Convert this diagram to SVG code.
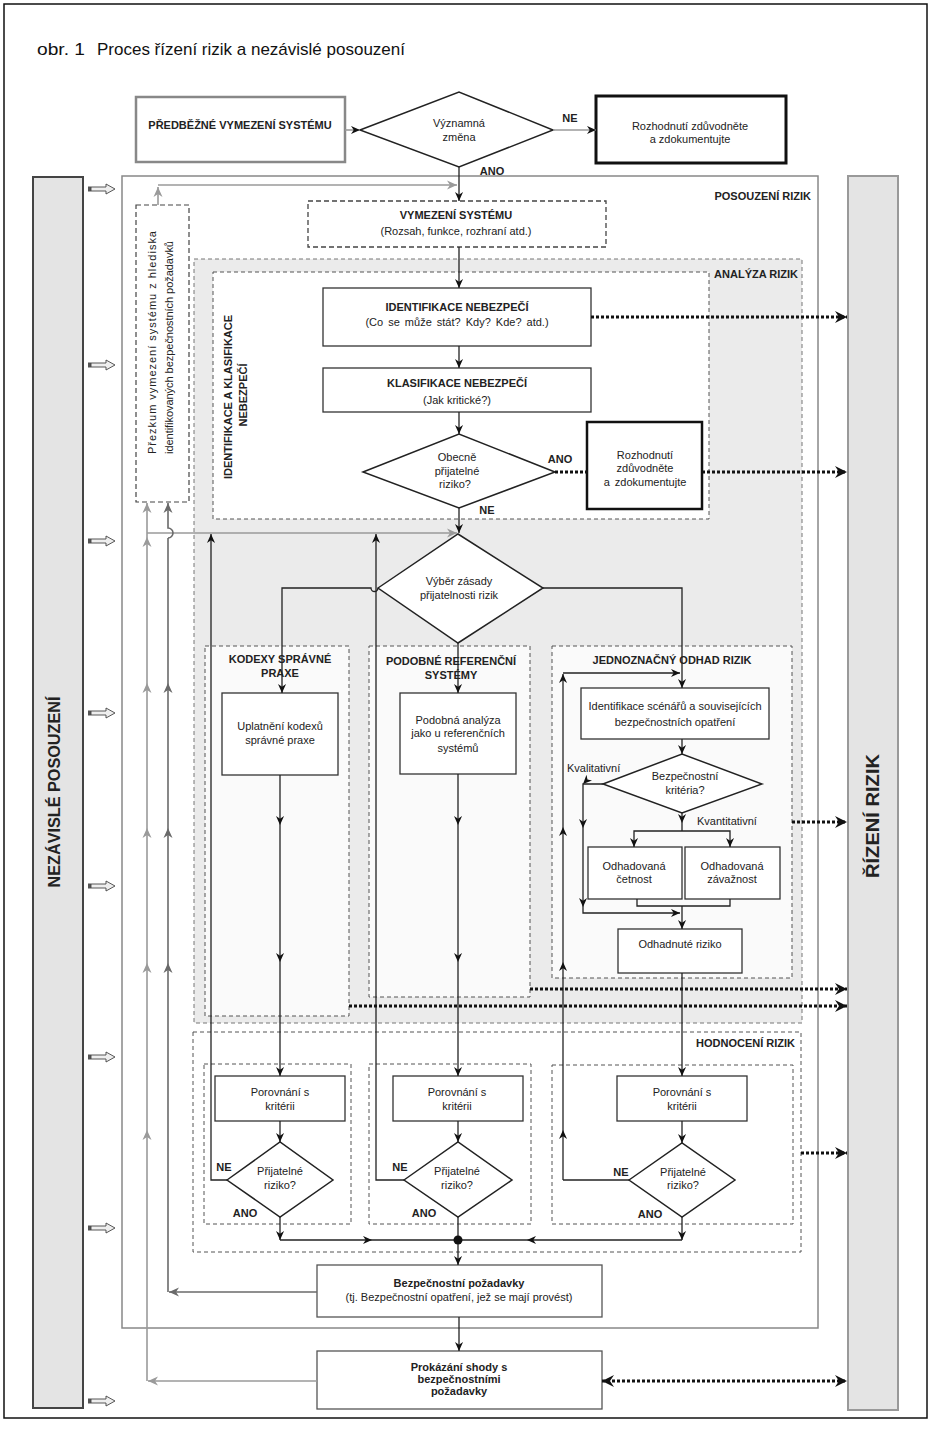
<svg xmlns="http://www.w3.org/2000/svg" width="932" height="1429" viewBox="0 0 932 1429">
<style>
.t{font-family:"Liberation Sans",Arial,sans-serif;font-size:11px;fill:#222;text-anchor:middle}
.b{font-weight:bold}
.s{text-anchor:start}
.e{text-anchor:end}
.ttl{font-family:"Liberation Sans Narrow","Liberation Sans",Arial,sans-serif;font-size:17px;fill:#111;text-anchor:start}
.box{fill:#fff;stroke:#333;stroke-width:1.3}
.dia{fill:#fff;stroke:#222;stroke-width:1.5}
.dash{fill:none;stroke:#555;stroke-width:1;stroke-dasharray:4 3}
.ln{fill:none;stroke:#222;stroke-width:1.3}
.gl{fill:none;stroke:#9a9a9a;stroke-width:1.6}
.gd{fill:none;stroke:#6a6a6a;stroke-width:1.6}
.dot{fill:none;stroke:#111;stroke-width:3;stroke-dasharray:3 2}
</style>
<defs>
<marker id="a" viewBox="0 0 10 10" refX="10" refY="5" markerWidth="9" markerHeight="9" markerUnits="userSpaceOnUse" orient="auto"><path d="M0,0.5 L10,5 L0,9.5 L3,5 z" fill="#111"/></marker>
<marker id="g" viewBox="0 0 10 10" refX="10" refY="5" markerWidth="10" markerHeight="10" markerUnits="userSpaceOnUse" orient="auto"><path d="M0,0.5 L10,5 L0,9.5 L3,5 z" fill="#9a9a9a"/></marker>
<marker id="g2" viewBox="0 0 10 10" refX="10" refY="5" markerWidth="10" markerHeight="10" markerUnits="userSpaceOnUse" orient="auto"><path d="M0,0.5 L10,5 L0,9.5 L3,5 z" fill="#6a6a6a"/></marker>
<marker id="d" viewBox="0 0 12 12" refX="12" refY="6" markerWidth="12" markerHeight="12" markerUnits="userSpaceOnUse" orient="auto-start-reverse"><path d="M0,0 L12,6 L0,12 L4,6 z" fill="#111"/></marker>
<g id="ha"><rect x="88" y="-2.5" width="3" height="5" fill="#555"/><path d="M91,-2 H106 V-5 L115,0 L106,5 V2 H91 Z" fill="#eee" stroke="#444" stroke-width="0.9"/></g>
</defs>
<rect width="932" height="1429" fill="#fff"/>
<rect x="4" y="4" width="923" height="1414" fill="none" stroke="#111" stroke-width="1.5"/>
<text x="37" y="55" class="ttl" textLength="48" lengthAdjust="spacingAndGlyphs">obr. 1</text>
<text x="97" y="55" class="ttl" textLength="308" lengthAdjust="spacingAndGlyphs">Proces řízení rizik a nezávislé posouzení</text>

<!-- side bars -->
<g id="bar-nezavisle">
<rect x="33" y="177" width="50" height="1231" fill="#e4e4e4" stroke="#444" stroke-width="2"/>
<text class="t b" style="font-size:17px" transform="translate(60,792) rotate(-90)" textLength="191" lengthAdjust="spacingAndGlyphs">NEZÁVISLÉ POSOUZENÍ</text>
</g>
<g id="bar-rizeni">
<rect x="848" y="176" width="50" height="1234" fill="#e4e4e4" stroke="#999" stroke-width="2"/>
<text class="t b" style="font-size:18px" transform="translate(879,816) rotate(-90)" textLength="124" lengthAdjust="spacingAndGlyphs">ŘÍZENÍ RIZIK</text>
</g>
<g id="hollow-arrows">
<use href="#ha" y="189"/><use href="#ha" y="365"/><use href="#ha" y="541"/><use href="#ha" y="713"/>
<use href="#ha" y="886"/><use href="#ha" y="1057"/><use href="#ha" y="1228"/><use href="#ha" y="1401"/>
</g>

<!-- containers -->
<g id="posouzeni-rizik">
<rect x="122" y="176" width="696" height="1152" fill="#fff" stroke="#888" stroke-width="1.5"/>
<text x="811" y="200" class="t b e">POSOUZENÍ RIZIK</text>
</g>
<g id="analyza-rizik">
<rect x="194" y="259" width="608" height="764" fill="#ebebeb" stroke="#777" stroke-width="1" stroke-dasharray="4 3"/>
<text x="798" y="278" class="t b e">ANALÝZA RIZIK</text>
</g>
<g id="identifikace-klasifikace">
<rect x="213" y="272" width="496" height="247" fill="#fff" stroke="#555" stroke-width="1" stroke-dasharray="4 3"/>
<text class="t b" transform="translate(232,397) rotate(-90)">IDENTIFIKACE A KLASIFIKACE</text>
<text class="t b" transform="translate(247,395) rotate(-90)">NEBEZPEČÍ</text>
</g>
<g id="kodexy">
<rect x="205" y="646" width="144" height="370" fill="#fafafa" stroke="#555" stroke-width="1" stroke-dasharray="4 3"/>
<text x="280" y="663" class="t b">KODEXY SPRÁVNÉ</text>
<text x="280" y="677" class="t b">PRAXE</text>
</g>
<g id="podobne">
<rect x="369" y="646" width="161" height="351" fill="#fafafa" stroke="#555" stroke-width="1" stroke-dasharray="4 3"/>
<text x="451" y="665" class="t b">PODOBNÉ REFERENČNÍ</text>
<text x="451" y="679" class="t b">SYSTÉMY</text>
</g>
<g id="jednoznacny">
<rect x="552" y="646" width="240" height="332" fill="#fafafa" stroke="#555" stroke-width="1" stroke-dasharray="4 3"/>
<text x="672" y="664" class="t b">JEDNOZNAČNÝ ODHAD RIZIK</text>
</g>
<g id="hodnoceni-rizik">
<rect x="193" y="1032" width="608" height="220" fill="#fff" stroke="#555" stroke-width="1" stroke-dasharray="4 3"/>
<text x="795" y="1047" class="t b e">HODNOCENÍ RIZIK</text>
<rect x="204" y="1064" width="147" height="160" class="dash"/>
<rect x="369" y="1064" width="162" height="160" class="dash"/>
<rect x="552" y="1065" width="241" height="159" class="dash"/>
</g>

<!-- nodes -->
<g id="predbezne">
<rect x="136" y="97" width="209" height="65" fill="#fff" stroke="#888" stroke-width="2.5"/>
<text x="240" y="129" class="t b">PŘEDBĚŽNÉ VYMEZENÍ SYSTÉMU</text>
</g>
<g id="vyznamna-zmena">
<polygon points="360,130 459,92 553,130 459,167" class="dia" stroke-width="2"/>
<text x="459" y="127" class="t">Významná</text>
<text x="459" y="141" class="t">změna</text>
</g>
<g id="rozhodnuti-1">
<rect x="596" y="96" width="190" height="67" fill="#fff" stroke="#111" stroke-width="3"/>
<text x="690" y="130" class="t">Rozhodnutí zdůvodněte</text>
<text x="690" y="143" class="t">a zdokumentujte</text>
</g>
<g id="vymezeni">
<rect x="308" y="201" width="298" height="46" fill="#fff" stroke="#444" stroke-width="1.3" stroke-dasharray="5 3"/>
<text x="456" y="219" class="t b">VYMEZENÍ SYSTÉMU</text>
<text x="456" y="235" class="t">(Rozsah, funkce, rozhraní atd.)</text>
</g>
<g id="prezkum">
<rect x="136" y="205" width="53" height="297" fill="#fff" stroke="#444" stroke-width="1.2" stroke-dasharray="5 3"/>
<text class="t s" transform="translate(156,454) rotate(-90)" textLength="223" lengthAdjust="spacing">Přezkum vymezení systému z hlediska</text>
<text class="t s" transform="translate(173,454) rotate(-90)" textLength="213" lengthAdjust="spacing">identifikovaných bezpečnostních požadavků</text>
</g>
<g id="identifikace-nebezpeci">
<rect x="323" y="288" width="268" height="58" class="box"/>
<text x="457" y="311" class="t b">IDENTIFIKACE NEBEZPEČÍ</text>
<text x="457" y="326" class="t" style="word-spacing:2px">(Co se může stát? Kdy? Kde? atd.)</text>
</g>
<g id="klasifikace-nebezpeci">
<rect x="323" y="368" width="268" height="44" class="box"/>
<text x="457" y="387" class="t b">KLASIFIKACE NEBEZPEČÍ</text>
<text x="457" y="404" class="t">(Jak kritické?)</text>
</g>
<g id="obecne-prijatelne">
<polygon points="363,472 459,434 555,472 459,508" class="dia"/>
<text x="457" y="461" class="t">Obecně</text>
<text x="457" y="475" class="t">přijatelné</text>
<text x="455" y="488" class="t">riziko?</text>
<text x="560" y="463" class="t b">ANO</text>
<text x="487" y="514" class="t b">NE</text>
</g>
<g id="rozhodnuti-2">
<rect x="587" y="422" width="115" height="87" fill="#fff" stroke="#111" stroke-width="2.5"/>
<text x="645" y="459" class="t">Rozhodnutí</text>
<text x="645" y="472" class="t">zdůvodněte</text>
<text x="645" y="486" class="t" style="word-spacing:2px">a zdokumentujte</text>
</g>
<g id="vyber-zasady">
<polygon points="378,588 458,534 543,588 458,643" class="dia"/>
<text x="459" y="585" class="t">Výběr zásady</text>
<text x="459" y="599" class="t">přijatelnosti rizik</text>
</g>
<g id="uplatneni">
<rect x="222" y="693" width="116" height="82" class="box"/>
<text x="280" y="730" class="t">Uplatnění kodexů</text>
<text x="280" y="744" class="t">správné praxe</text>
</g>
<g id="podobna-analyza">
<rect x="400" y="693" width="116" height="81" class="box"/>
<text x="458" y="724" class="t">Podobná analýza</text>
<text x="458" y="737" class="t">jako u referenčních</text>
<text x="458" y="752" class="t">systémů</text>
</g>
<g id="identifikace-scenaru">
<rect x="581" y="688" width="188" height="51" class="box"/>
<text x="675" y="710" class="t">Identifikace scénářů a souvisejících</text>
<text x="675" y="726" class="t">bezpečnostních opatření</text>
</g>
<g id="bezpecnostni-kriteria">
<polygon points="603,784 682,754 762,784 682,813" class="dia"/>
<text x="685" y="780" class="t">Bezpečnostní</text>
<text x="685" y="794" class="t">kritéria?</text>
<text x="567" y="772" class="t s">Kvalitativní</text>
<text x="697" y="825" class="t s">Kvantitativní</text>
</g>
<g id="odhadovana-cetnost">
<rect x="588" y="847" width="94" height="52" class="box"/>
<text x="634" y="870" class="t">Odhadovaná</text>
<text x="634" y="883" class="t">četnost</text>
</g>
<g id="odhadovana-zavaznost">
<rect x="685" y="847" width="95" height="52" class="box"/>
<text x="732" y="870" class="t">Odhadovaná</text>
<text x="732" y="883" class="t">závažnost</text>
</g>
<g id="odhadnute-riziko">
<rect x="618" y="929" width="124" height="44" class="box"/>
<text x="680" y="948" class="t">Odhadnuté riziko</text>
</g>
<g id="porovnani-1">
<rect x="215" y="1076" width="130" height="45" class="box"/>
<text x="280" y="1096" class="t">Porovnání s</text>
<text x="280" y="1110" class="t">kritérii</text>
</g>
<g id="prijatelne-1">
<polygon points="227,1180 280,1142 333,1180 280,1217" class="dia"/>
<text x="280" y="1175" class="t">Přijatelné</text>
<text x="280" y="1189" class="t">riziko?</text>
<text x="224" y="1171" class="t b">NE</text>
<text x="245" y="1217" class="t b">ANO</text>
</g>
<g id="porovnani-2">
<rect x="393" y="1076" width="130" height="45" class="box"/>
<text x="457" y="1096" class="t">Porovnání s</text>
<text x="457" y="1110" class="t">kritérii</text>
</g>
<g id="prijatelne-2">
<polygon points="404,1180 458,1142 512,1180 458,1217" class="dia"/>
<text x="457" y="1175" class="t">Přijatelné</text>
<text x="457" y="1189" class="t">riziko?</text>
<text x="400" y="1171" class="t b">NE</text>
<text x="424" y="1217" class="t b">ANO</text>
</g>
<g id="porovnani-3">
<rect x="617" y="1076" width="130" height="45" class="box"/>
<text x="682" y="1096" class="t">Porovnání s</text>
<text x="682" y="1110" class="t">kritérii</text>
</g>
<g id="prijatelne-3">
<polygon points="629,1180 682,1143 735,1180 682,1217" class="dia"/>
<text x="683" y="1176" class="t">Přijatelné</text>
<text x="683" y="1189" class="t">riziko?</text>
<text x="621" y="1176" class="t b">NE</text>
<text x="650" y="1218" class="t b">ANO</text>
</g>
<g id="bezpecnostni-pozadavky">
<rect x="317" y="1265" width="285" height="52" fill="#fff" stroke="#555" stroke-width="1.3"/>
<text x="459" y="1287" class="t b">Bezpečnostní požadavky</text>
<text x="459" y="1301" class="t">(tj. Bezpečnostní opatření, jež se mají provést)</text>
</g>
<g id="prokazani-shody">
<rect x="317" y="1351" width="285" height="58" fill="#fff" stroke="#555" stroke-width="1.3"/>
<text x="459" y="1371" class="t b">Prokázání shody s</text>
<text x="459" y="1383" class="t b">bezpečnostními</text>
<text x="459" y="1395" class="t b">požadavky</text>
</g>

<!-- connectors -->
<g id="connectors">
<path d="M345,130 H360" class="gl" marker-end="url(#a)"/>
<path d="M553,130 H596" class="gl" marker-end="url(#a)"/>
<text x="570" y="122" class="t b">NE</text>
<text x="492" y="175" class="t b">ANO</text>
<path d="M459,167 V201" class="ln" marker-end="url(#a)"/>
<path d="M158,205 V187" class="gl" marker-end="url(#g)"/>
<path d="M158,185 H457" class="gl" marker-end="url(#g)"/>
<path d="M459,247 V288" class="ln" marker-end="url(#a)"/>
<path d="M459,346 V368" class="ln" marker-end="url(#a)"/>
<path d="M459,412 V434" class="ln" marker-end="url(#a)"/>
<path d="M459,508 V533" class="ln" marker-end="url(#a)"/>
<path d="M591,317 H847" class="dot" marker-end="url(#d)"/>
<path d="M555,472 H587" class="dot"/>
<path d="M702,472 H847" class="dot" marker-end="url(#d)"/>
<!-- gray review lines -->
<path d="M317,1381 H148" class="gl" marker-end="url(#g)"/>
<path d="M147,1381 L147,1130 L147,963 L147,828 L147,683 L147,537 L147,503" class="gl" marker-mid="url(#g)" marker-end="url(#g)"/>
<path d="M147,533 H457" class="gl" marker-end="url(#g)"/>
<path d="M317,1292 H169" class="gd" marker-end="url(#g2)"/>
<path d="M168,1292 L168,963 L168,828 L168,683 L168,538" class="gd" marker-mid="url(#g2)"/>
<path d="M168,538 A5,5 0 0 0 168,528 L168,503" class="gd" marker-end="url(#g2)"/>
<!-- Výběr zásady branches -->
<path d="M378,588 A3.5,3.5 0 0 1 371,588 H282 V693" class="ln" marker-end="url(#a)"/>
<path d="M458,643 V693" class="ln" marker-end="url(#a)"/>
<path d="M543,588 H682 V688" class="ln" marker-end="url(#a)"/>
<!-- return lines -->
<path d="M227,1180 H211 V534" class="ln" marker-end="url(#a)"/>
<path d="M404,1180 H376 V534" class="ln" marker-end="url(#a)"/>
<path d="M629,1180 H563" class="ln"/>
<path d="M563,1180 L563,1130 L563,962 L563,827 L563,674" class="ln" marker-mid="url(#a)" marker-end="url(#a)"/>
<path d="M563,673 H680" class="ln" marker-end="url(#a)"/>
<!-- right branch -->
<path d="M682,739 V754" class="ln" marker-end="url(#a)"/>
<path d="M603,784 H583 L583,828 L583,907" class="ln" marker-mid="url(#a)" marker-end="url(#a)"/>
<path d="M583,907 V913 H680" class="ln" marker-end="url(#a)"/>
<path d="M682,813 V823" class="ln" marker-end="url(#a)"/>
<path d="M682,823 V831" class="ln"/>
<path d="M682,831 H634 V847" class="ln" marker-end="url(#a)"/>
<path d="M682,831 H730 V847" class="ln" marker-end="url(#a)"/>
<path d="M637,899 V906 H730 V899" class="ln"/>
<path d="M682,906 V929" class="ln" marker-end="url(#a)"/>
<path d="M682,973 V1076" class="ln" marker-end="url(#a)"/>
<path d="M792,822 H847" class="dot" marker-end="url(#d)"/>
<!-- column lines -->
<path d="M280,775 L280,825 L280,962 L280,1076" class="ln" marker-mid="url(#a)" marker-end="url(#a)"/>
<path d="M458,774 L458,825 L458,962 L458,1076" class="ln" marker-mid="url(#a)" marker-end="url(#a)"/>
<path d="M530,989 H847" class="dot" marker-end="url(#d)"/>
<path d="M349,1006 H847" class="dot" marker-end="url(#d)"/>
<!-- evaluation -->
<path d="M280,1121 V1142" class="ln" marker-end="url(#a)"/>
<path d="M458,1121 V1142" class="ln" marker-end="url(#a)"/>
<path d="M682,1121 V1143" class="ln" marker-end="url(#a)"/>
<path d="M280,1217 V1240" class="ln" marker-end="url(#a)"/>
<path d="M682,1217 V1240" class="ln" marker-end="url(#a)"/>
<path d="M280,1240 L372,1240 L455,1240" class="ln" marker-mid="url(#a)"/>
<path d="M682,1240 L527,1240 L461,1240" class="ln" marker-mid="url(#a)"/>
<path d="M458,1217 V1240" class="ln"/>
<circle cx="458" cy="1240" r="4.5" fill="#111"/>
<path d="M458,1244 V1265" class="ln" marker-end="url(#a)"/>
<path d="M801,1153 H847" class="dot" marker-end="url(#d)"/>
<path d="M459,1317 V1351" class="ln" marker-end="url(#a)"/>
<path d="M602,1381 H847" class="dot" marker-start="url(#d)" marker-end="url(#d)"/>
</g>
</svg>
